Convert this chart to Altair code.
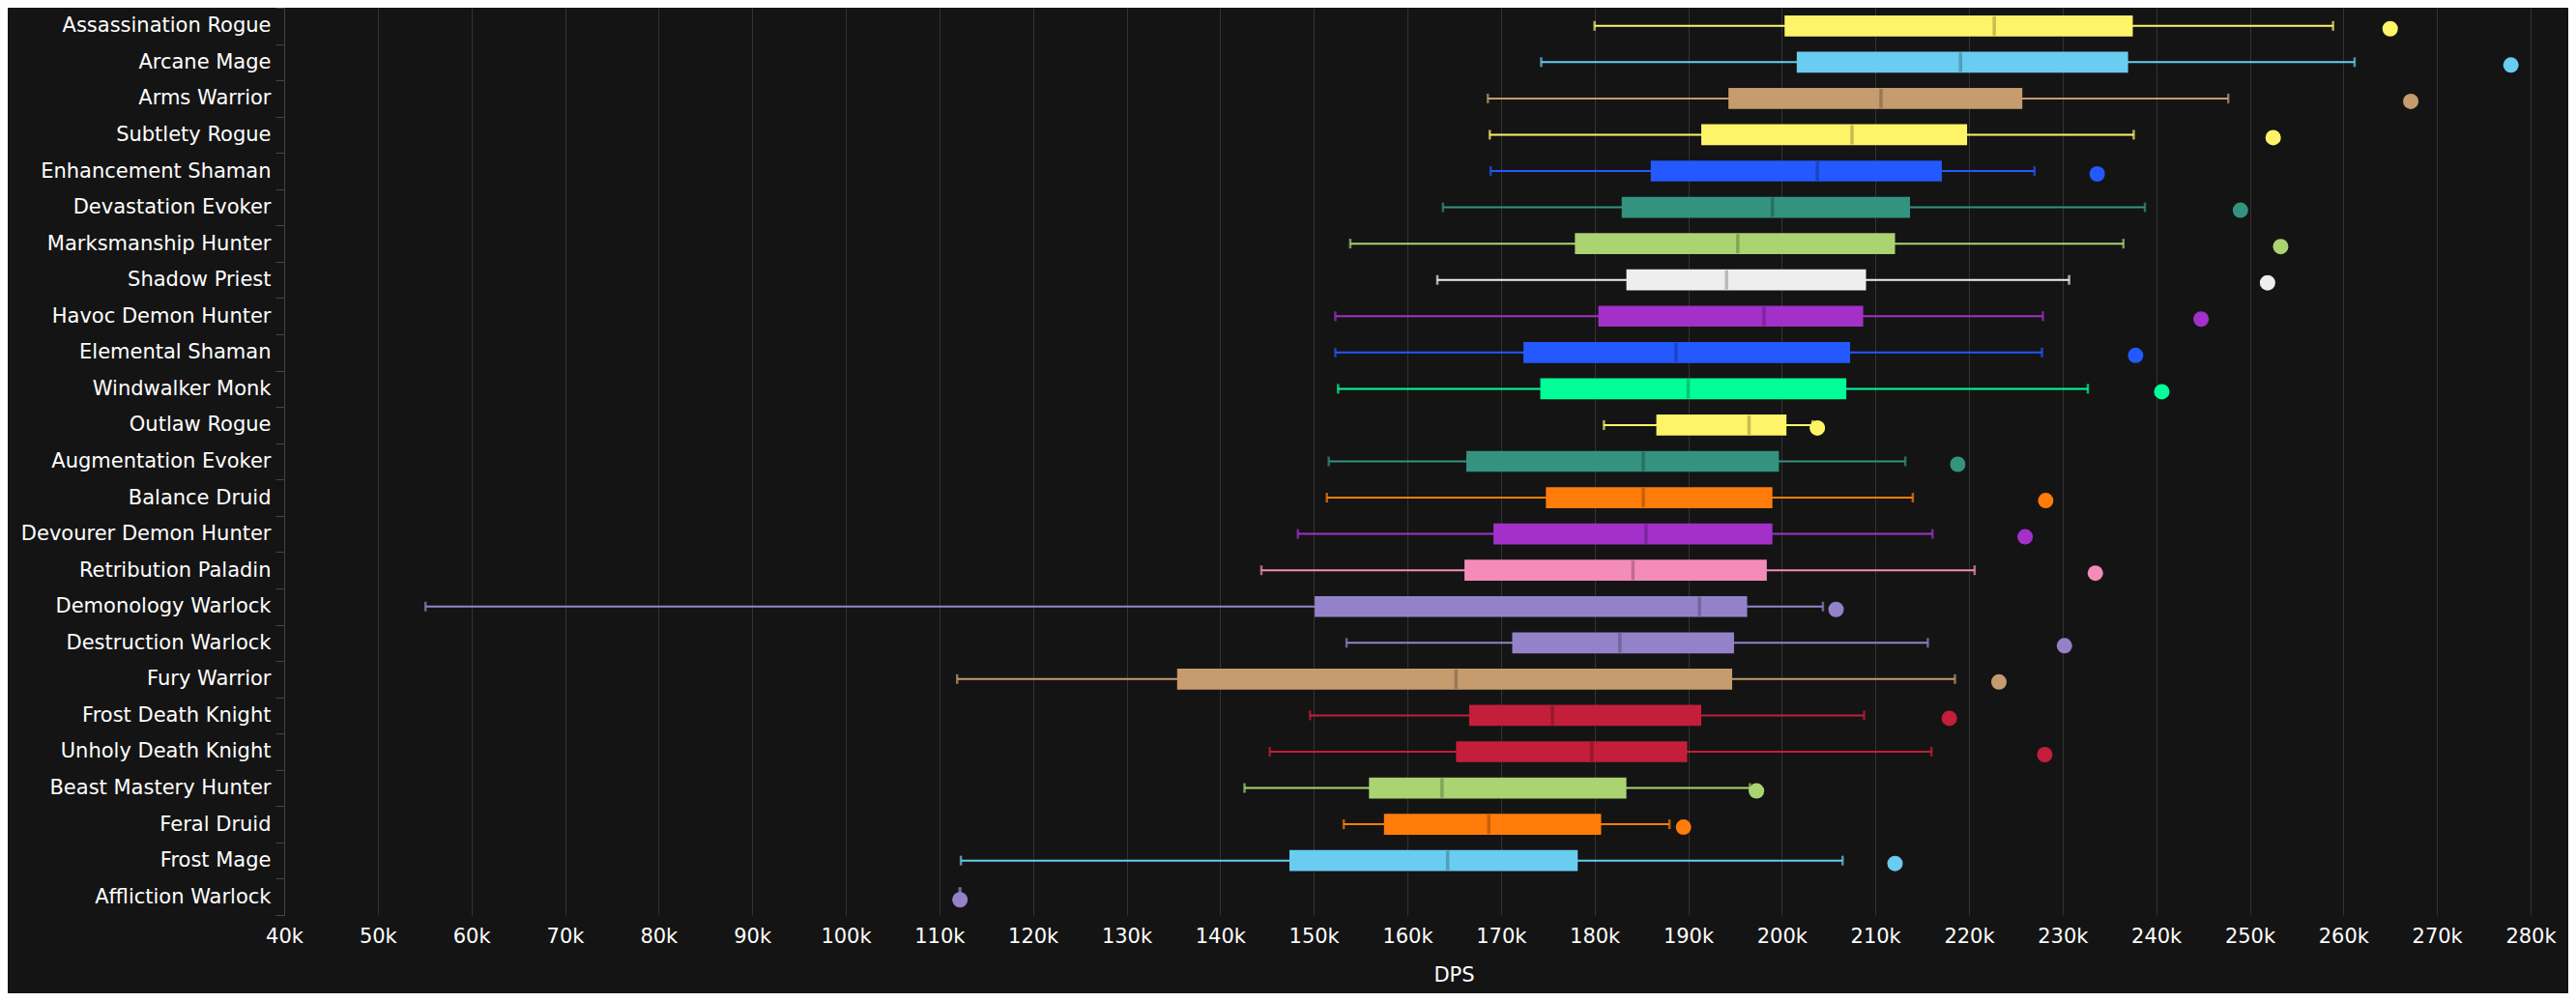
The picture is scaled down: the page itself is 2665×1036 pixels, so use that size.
import altair as alt
import pandas as pd

classes = [
    "Assassination Rogue", "Arcane Mage", "Arms Warrior", "Subtlety Rogue",
    "Enhancement Shaman", "Devastation Evoker", "Marksmanship Hunter", "Shadow Priest",
    "Havoc Demon Hunter", "Elemental Shaman", "Windwalker Monk", "Outlaw Rogue",
    "Augmentation Evoker", "Balance Druid", "Devourer Demon Hunter", "Retribution Paladin",
    "Demonology Warlock", "Destruction Warlock", "Fury Warrior", "Frost Death Knight",
    "Unholy Death Knight", "Beast Mastery Hunter", "Feral Druid", "Frost Mage",
    "Affliction Warlock",
]
low = [180000, 174300, 168600, 168800, 168900, 163800, 153900, 163200, 152300, 152300,
       152600, 181000, 151600, 151400, 148300, 144400, 55100, 153500, 111900, 149600,
       145300, 142600, 153200, 112300, 112200]
q1 = [200300, 201600, 194300, 191400, 186000, 182900, 177900, 183400, 180400, 172400,
      174200, 186600, 166300, 174800, 169200, 166100, 150100, 171200, 135400, 166600,
      165200, 155900, 157500, 147400, 112200]
median = [222700, 219100, 210600, 207500, 203800, 199000, 195300, 194100, 198100, 188700,
          190000, 196500, 185200, 185200, 185500, 184100, 191200, 182700, 165200, 175500,
          179700, 163700, 168700, 164300, 112200]
q3 = [237500, 237000, 225700, 219800, 217100, 213700, 212100, 209000, 208700, 207300,
      206900, 200500, 199700, 199000, 199000, 198400, 196300, 194900, 194700, 191400,
      189900, 183400, 180700, 178200, 112200]
high = [258900, 261200, 247700, 237600, 227000, 238800, 236500, 230700, 227900, 227800,
        232700, 203300, 213200, 214000, 216100, 220600, 204400, 215600, 218500, 208800,
        216000, 196600, 188000, 206500, 112200]
outlier = [265000, 277900, 267200, 252500, 233700, 249000, 253300, 251900, 244800, 237800,
           240600, 203800, 218800, 228200, 226000, 233500, 205800, 230200, 223200, 217900,
           228100, 197300, 189500, 212100, 112200]
colors = ["#FFF468", "#69CCF0", "#C69B6D", "#FFF468", "#2359FF", "#33937F", "#AAD372",
          "#EEEEEE", "#A330C9", "#2359FF", "#00FF98", "#FFF468", "#33937F", "#FF7C0A",
          "#A330C9", "#F48CBA", "#9482C9", "#9482C9", "#C69B6D", "#C41E3A", "#C41E3A",
          "#AAD372", "#FF7C0A", "#69CCF0", "#9482C9"]
x_ticks = list(range(40000, 280001, 10000))

df = pd.DataFrame({
    "cls": classes, "low": low, "q1": q1, "median": median, "q3": q3,
    "high": high, "outlier": outlier, "color": colors,
})

FONT = "DejaVu Sans"
FS = 21
y_enc = alt.Y("cls:N", sort=classes, title=None,
              scale=alt.Scale(paddingInner=0, paddingOuter=0),
              axis=alt.Axis(tickBand="extent", tickColor="#444444", tickSize=9,
                            domainColor="#444444", domainWidth=1,
                            labelFontSize=FS, labelFont=FONT, labelColor="#ffffff",
                            labelPadding=5, grid=False, labelLimit=400))
x_scale = alt.Scale(domain=[40000, 280000], nice=False, zero=False)
x_axis = alt.Axis(values=x_ticks, labelExpr="format(datum.value/1000, 'd') + 'k'",
                  grid=True, gridColor="#333333", gridWidth=1, domain=False, ticks=False,
                  labelFontSize=FS, labelFont=FONT, labelColor="#ffffff", labelPadding=11,
                  title="DPS", titleFont=FONT, titleFontSize=FS, titleColor="#ffffff",
                  titleFontWeight="normal", titleX=1210, titleY=62,
                  titleBaseline="middle", titleAlign="center", labelFlush=False)
col = alt.Color("color:N", scale=None, legend=None)

base = alt.Chart(df)
whisker = base.mark_rule(strokeWidth=2).encode(
    x=alt.X("low:Q", scale=x_scale, axis=x_axis), x2="high:Q", y=y_enc, color=col)
cap_lo = base.mark_tick(size=10, thickness=2.5).encode(
    x=alt.X("low:Q"), y=alt.Y("cls:N", sort=classes), color=col)
cap_hi = base.mark_tick(size=10, thickness=2.5).encode(
    x=alt.X("high:Q"), y=alt.Y("cls:N", sort=classes), color=col)
box = base.mark_bar(size=21.7).encode(
    x=alt.X("q1:Q"), x2="q3:Q", y=alt.Y("cls:N", sort=classes), color=col)
med_c = base.mark_tick(size=20, thickness=3.5).encode(
    x=alt.X("median:Q"), y=alt.Y("cls:N", sort=classes), color=col)
med_dark = base.transform_filter("datum.q3 > datum.q1").mark_tick(
    size=20, thickness=3.5, color="#000000", opacity=0.22).encode(
    x=alt.X("median:Q"), y=alt.Y("cls:N", sort=classes))
dots = base.mark_circle(size=256, opacity=1, yOffset=3).encode(
    x=alt.X("outlier:Q"), y=alt.Y("cls:N", sort=classes), color=col)

chart = alt.layer(whisker, box, cap_lo, cap_hi, med_c, med_dark, dots).properties(
    width=2324, height=939, background="#141414",
    autosize=alt.AutoSizeParams(type="none"),
    padding={"left": 286, "top": 0, "right": 39, "bottom": 81},
).configure_view(stroke=None)

chart.save("out.html", embed_options={"renderer": "svg", "actions": False})
